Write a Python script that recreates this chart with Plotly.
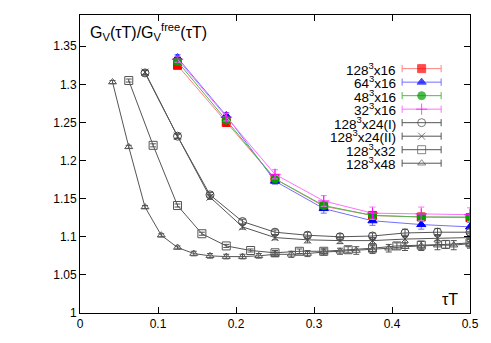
import plotly.graph_objects as go

# tau*T grids (tau / N_tau)
tau16 = [2, 3, 4, 5, 6, 7, 8]
tau24 = [2, 3, 4, 5, 6, 7, 8, 9, 10, 11, 12]
tau32 = [2, 3, 4, 5, 6, 7, 8, 9, 10, 11, 12, 13, 14, 15, 16]
tau48 = [2, 3, 4, 5, 6, 7, 8, 9, 10, 11, 12, 13, 14, 15, 16, 17, 18, 19, 20, 21, 22, 23, 24]

# G_V / G_V^free
g128_16 = [1.325, 1.250, 1.176, 1.140, 1.128, 1.126, 1.125]
e128_16 = [0.004, 0.004, 0.004, 0.004, 0.004, 0.005, 0.005]
g64_16 = [1.335, 1.259, 1.173, 1.137, 1.121, 1.116, 1.113]
e64_16 = [0.004, 0.004, 0.004, 0.006, 0.006, 0.006, 0.006]
g48_16 = [1.330, 1.253, 1.176, 1.141, 1.128, 1.126, 1.126]
e48_16 = [0.003, 0.003, 0.003, 0.004, 0.004, 0.004, 0.004]
g32_16 = [1.333, 1.257, 1.182, 1.147, 1.131, 1.130, 1.129]
e32_16 = [0.004, 0.005, 0.006, 0.007, 0.008, 0.009, 0.009]

g128_24a = [1.315, 1.232, 1.155, 1.120, 1.106, 1.102, 1.100, 1.101, 1.105, 1.106, 1.106]
e128_24a = [0.003, 0.003, 0.003, 0.003, 0.003, 0.004, 0.004, 0.004, 0.005, 0.005, 0.005]
g128_24b = [1.316, 1.232, 1.152, 1.113, 1.099, 1.096, 1.095, 1.095, 1.097, 1.098, 1.099]
e128_24b = [0.003, 0.003, 0.003, 0.003, 0.003, 0.004, 0.004, 0.004, 0.005, 0.005, 0.005]
g128_32 = [1.305, 1.220, 1.141, 1.104, 1.088, 1.082, 1.079, 1.081, 1.081, 1.083, 1.085, 1.088, 1.089, 1.090, 1.092]
e128_32 = [0.002, 0.002, 0.002, 0.002, 0.002, 0.002, 0.003, 0.003, 0.003, 0.004, 0.004, 0.004, 0.005, 0.005, 0.005]
g128_48 = [1.303, 1.218, 1.139, 1.102, 1.086, 1.078, 1.075, 1.074, 1.074, 1.075, 1.077, 1.077,
           1.078, 1.080, 1.081, 1.082, 1.083, 1.085, 1.087, 1.088, 1.089, 1.089, 1.091]
e128_48 = [0.002, 0.002, 0.002, 0.002, 0.002, 0.003, 0.003, 0.003, 0.003, 0.003, 0.003, 0.004,
           0.004, 0.004, 0.004, 0.005, 0.005, 0.005, 0.005, 0.006, 0.006, 0.006, 0.006]

series = [
    ("128<sup>3</sup>x16", tau16, 16, g128_16, e128_16, "#ff0000", "#ff8080", "square", 8),
    ("64<sup>3</sup>x16", tau16, 16, g64_16, e64_16, "#0000ff", "#7070ff", "triangle-up", 8),
    ("48<sup>3</sup>x16", tau16, 16, g48_16, e48_16, "#00a000", "#50b850", "circle", 8),
    ("32<sup>3</sup>x16", tau16, 16, g32_16, e32_16, "#ff00ff", "#ff70ff", "cross-thin-open", 8),
    ("128<sup>3</sup>x24(I)", tau24, 24, g128_24a, e128_24a, "#444444", "#555555", "circle-open", 8),
    ("128<sup>3</sup>x24(II)", tau24, 24, g128_24b, e128_24b, "#444444", "#555555", "x-thin-open", 7),
    ("128<sup>3</sup>x32", tau32, 32, g128_32, e128_32, "#555555", "#555555", "square-open", 8),
    ("128<sup>3</sup>x48", tau48, 48, g128_48, e128_48, "#555555", "#555555", "triangle-up-open", 7),
]

fig = go.Figure()
for name, taus, nt, vals, errs, mc, lc, sym, ms in series:
    fig.add_trace(go.Scatter(
        x=[t / nt for t in taus], y=vals, name=name, mode="lines+markers", showlegend=False,
        line=dict(color=lc, width=1),
        marker=dict(symbol=sym, size=ms, color=mc, line=dict(color=mc, width=1)),
        error_y=dict(type="data", array=errs, color=lc, thickness=1, width=3),
    ))

# gnuplot-style key: text on the left, sample on the right (drawn on a hidden 0..1 overlay axis)
key_x0, key_x1 = 0.826, 0.926
key_text_x = 0.812
for i, (name, taus, nt, vals, errs, mc, lc, sym, ms) in enumerate(series):
    ky = (315 - (69 + 13.6 * i)) / 300
    km = (key_x0 + key_x1) / 2
    fig.add_trace(go.Scatter(
        x=[key_x0, km, key_x1], y=[ky, ky, ky], xaxis="x2", yaxis="y2",
        mode="lines+markers", showlegend=False, hoverinfo="skip",
        line=dict(color=lc, width=1),
        marker=dict(symbol=sym, size=[0, ms, 0], color=mc, line=dict(color=mc, width=1)),
        error_y=dict(type="data", array=[0.012, 0, 0.012], color=lc, thickness=1, width=0),
    ))
    fig.add_annotation(x=key_text_x, y=ky, xref="x2", yref="y2", xanchor="right", yanchor="middle",
                       text=name, showarrow=False, borderpad=0, font=dict(size=13.5, color="black"))

fig.add_annotation(x=0.02, y=0.985, xref="paper", yref="paper", xanchor="left", yanchor="top",
                   text="G<sub>V</sub>(τT)/G<sub>V</sub><sup>free</sup>(τT)", showarrow=False,
                   font=dict(size=16, color="black"))
fig.add_annotation(x=0.975, y=0.01, xref="paper", yref="paper", xanchor="right", yanchor="bottom",
                   text="τT", showarrow=False, font=dict(size=16, color="black"))

axis_style = dict(showgrid=False, zeroline=False, showline=True, linecolor="black", linewidth=1,
                  mirror="ticks", ticks="inside", ticklen=6, tickcolor="black",
                  tickfont=dict(size=12, color="black"))
fig.update_xaxes(range=[0, 0.5], dtick=0.1, tick0=0, **axis_style)
fig.update_yaxes(range=[1, 1.391], dtick=0.05, tick0=1, **axis_style)

fig.update_layout(
    width=491, height=343,
    margin=dict(l=80, r=15, t=15, b=28),
    plot_bgcolor="white", paper_bgcolor="white",
    font=dict(family="Liberation Sans, Arial, sans-serif", color="black"),
    xaxis2=dict(overlaying="x", range=[0, 1], visible=False, fixedrange=True),
    yaxis2=dict(overlaying="y", range=[0, 1], visible=False, fixedrange=True),
    showlegend=False,
)
fig.write_html("out.html", config={"displayModeBar": False},
               post_script="document.body.style.margin='0px';")
